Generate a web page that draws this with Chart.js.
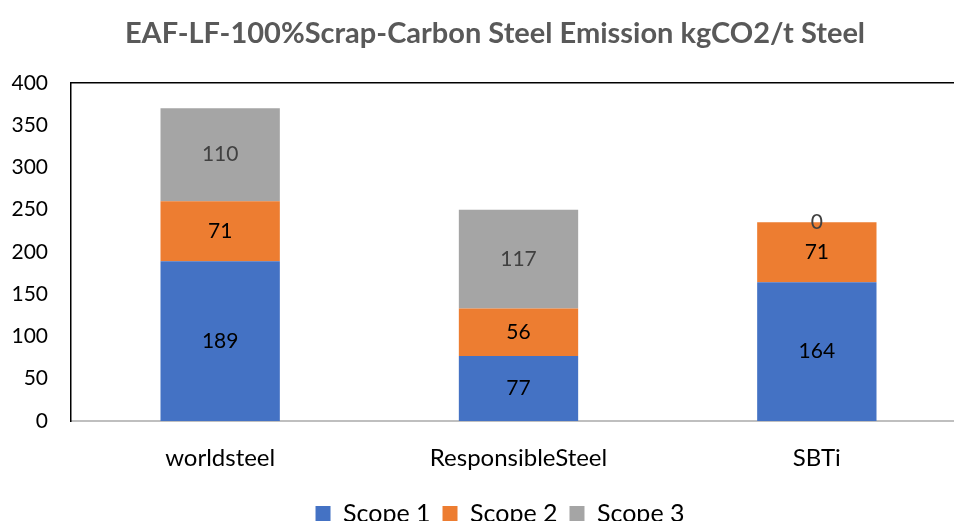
<!DOCTYPE html>
<html>
<head>
<meta charset="utf-8">
<script src="https://cdn.jsdelivr.net/npm/chart.js@4/dist/chart.umd.min.js"></script>
<style>
  html, body { margin: 0; padding: 0; background: #fff; overflow: hidden; }
  #wrap { width: 1000px; height: 540px; }
</style>
</head>
<body>
<div id="wrap"><canvas id="emChart" width="1000" height="540"></canvas></div>
<script>
var categories = ["worldsteel", "ResponsibleSteel", "SBTi"];
var scope1 = [189, 77, 164];
var scope2 = [71, 56, 71];
var scope3 = [110, 117, 0];
var yTicks = [0, 50, 100, 150, 200, 250, 300, 350, 400];

var FONT = "Lato, 'Open Sans', sans-serif";

// draws the value in the middle of each bar segment
var valueLabels = {
  id: 'valueLabels',
  afterDatasetsDraw: function(chart) {
    var ctx = chart.ctx;
    ctx.save();
    ctx.font = "21px " + FONT;
    ctx.textAlign = 'center';
    ctx.textBaseline = 'middle';
    chart.data.datasets.forEach(function(ds, i) {
      var meta = chart.getDatasetMeta(i);
      meta.data.forEach(function(bar, j) {
        var y = (bar.y + bar.base) / 2;
        ctx.fillStyle = ds.labelColor;
        ctx.fillText(String(ds.data[j]), bar.x, y);
      });
    });
    ctx.restore();
  }
};

// black top border of the plot area
var topBorder = {
  id: 'topBorder',
  afterDraw: function(chart) {
    var a = chart.chartArea, ctx = chart.ctx;
    ctx.save();
    ctx.strokeStyle = '#000';
    ctx.lineWidth = 1.5;
    ctx.beginPath();
    ctx.moveTo(a.left, a.top);
    ctx.lineTo(a.right + 20, a.top);
    ctx.stroke();
    ctx.restore();
  }
};

// the plot runs past the right edge, so nudge title/legend to stay centred on the page
var centreShift = {
  id: 'centreShift',
  afterLayout: function(chart) {
    if (chart.titleBlock) { chart.titleBlock.left += 12; chart.titleBlock.right += 12; }
    if (chart.legend) { chart.legend.left += 17; chart.legend.right += 17; }
  }
};

new Chart(document.getElementById('emChart'), {
  type: 'bar',
  data: {
    labels: categories,
    datasets: [
      { label: 'Scope 1', data: scope1, backgroundColor: '#4472C4', labelColor: '#000' },
      { label: 'Scope 2', data: scope2, backgroundColor: '#ED7D31', labelColor: '#000' },
      { label: 'Scope 3', data: scope3, backgroundColor: '#A5A5A5', labelColor: '#404040' }
    ]
  },
  plugins: [valueLabels, topBorder, centreShift],
  options: {
    responsive: false,
    animation: false,
    layout: { padding: { left: 0, right: 34, bottom: 4 } },
    datasets: { bar: { barPercentage: 0.4, categoryPercentage: 1.0 } },
    plugins: {
      title: {
        display: true,
        text: 'EAF-LF-100%Scrap-Carbon Steel Emission kgCO2/t Steel',
        color: '#595959',
        font: { family: FONT, size: 29, weight: 'bold' },
        padding: { top: 16, bottom: 32 }
      },
      legend: {
        position: 'bottom',
        labels: {
          color: '#000',
          font: { family: FONT, size: 25 },
          boxWidth: 15,
          boxHeight: 15,
          padding: 12
        }
      },
      tooltip: { enabled: false }
    },
    scales: {
      x: {
        stacked: true,
        grid: { display: false, drawTicks: false },
        border: { color: '#BFBFBF', width: 2 },
        ticks: { color: '#000', font: { family: FONT, size: 24 }, padding: 23 },
        afterFit: function(axis) { axis.height = 68; }
      },
      y: {
        stacked: true,
        min: 0,
        max: 400,
        afterBuildTicks: function(axis) {
          axis.ticks = yTicks.map(function(v) { return { value: v }; });
        },
        grid: { display: false, drawTicks: false },
        border: { color: '#000', width: 1.5 },
        ticks: { color: '#000', font: { family: FONT, size: 21 }, padding: 23 },
        afterFit: function(axis) { axis.width = 71; }
      }
    }
  }
});
</script>
</body>
</html>
